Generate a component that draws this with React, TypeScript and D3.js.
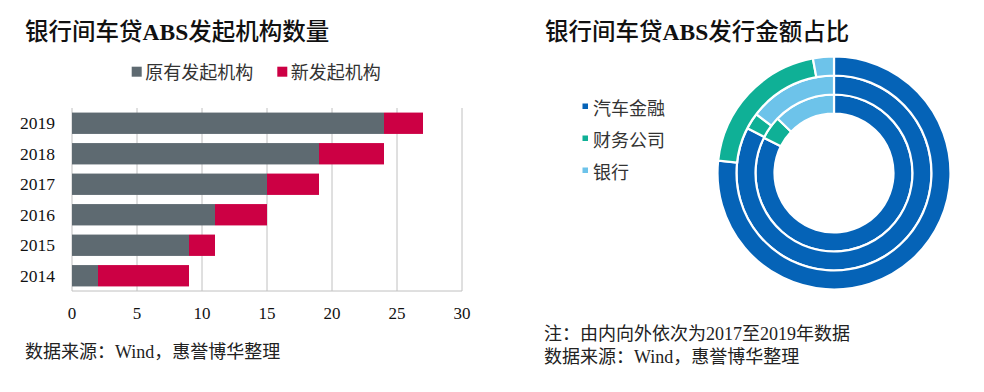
import React from "react";
import * as d3 from "d3";

// left chart: number of originators per year
const years = ["2014", "2015", "2016", "2017", "2018", "2019"];
const existingOrgs = [2, 9, 11, 15, 19, 24];
const newOrgs = [7, 2, 4, 4, 5, 3];
const barSeries = ["原有发起机构", "新发起机构"];
const barColors = ["#5e6a71", "#cc0044"];

// right chart: issuance share, inner ring 2017 -> outer ring 2019
const ringYears = ["2017", "2018", "2019"];
const shareCategories = ["汽车金融", "财务公司", "银行"];
const autoFinance = [82.4, 82.6, 76.7];
const financeCo = [4.8, 2.7, 20.4];
const banks = [12.8, 14.7, 2.9];
const shareColors = ["#0563b7", "#0fb096", "#6dc3ea"];

const W = 984;
const H = 392;
const FONT = "'Liberation Serif', 'Times New Roman', 'Noto Sans CJK SC', serif";
const CJK = "'Liberation Serif', 'Noto Sans CJK SC', serif";

// title with bold latin part
function Title({ x, pre, post }: { x: number; pre: string; post: string }) {
  return (
    <text x={x} y={39.7} fontSize={23.5} fill="#111" fontFamily={CJK} fontWeight={500}>
      {pre}
      <tspan fontWeight="bold">ABS</tspan>
      {post}
    </text>
  );
}

function BarChart() {
  const margin = { top: 108, left: 72, right: 462, bottom: 291 };
  const x = d3.scaleLinear().domain([0, 30]).range([margin.left, margin.right]);
  const y = d3
    .scaleBand()
    .domain(years.slice().reverse())
    .range([margin.top, margin.bottom])
    .paddingInner(0.3)
    .paddingOuter(0.15);
  const ticks = x.ticks(6);

  return (
    <g>
      <Title x={25} pre="银行间车贷" post="发起机构数量" />

      {/* legend */}
      {barSeries.map((s, i) => {
        const lx = i === 0 ? 131.7 : 277.3;
        return (
          <g key={s}>
            <rect x={lx} y={66.7} width={10} height={10} fill={barColors[i]} />
            <text x={lx + 13.5} y={78.5} fontSize={18} fill="#333" fontFamily={CJK}>
              {s}
            </text>
          </g>
        );
      })}

      {/* grid */}
      {ticks.map((t) => (
        <line key={t} x1={x(t)} x2={x(t)} y1={margin.top} y2={margin.bottom} stroke="#c0c0c0" strokeWidth={1} />
      ))}
      <line x1={margin.left} x2={margin.right} y1={margin.bottom} y2={margin.bottom} stroke="#c0c0c0" />

      {/* bars */}
      {years.map((yr, i) => (
        <g key={yr}>
          <rect
            x={x(0)}
            y={y(yr)}
            width={x(existingOrgs[i]) - x(0)}
            height={y.bandwidth()}
            fill={barColors[0]}
          />
          <rect
            x={x(existingOrgs[i])}
            y={y(yr)}
            width={x(existingOrgs[i] + newOrgs[i]) - x(existingOrgs[i])}
            height={y.bandwidth()}
            fill={barColors[1]}
          />
          <text
            x={55}
            y={(y(yr) as number) + y.bandwidth() / 2 + 6}
            fontSize={17.5}
            textAnchor="end"
            fill="#111"
            fontFamily={FONT}
          >
            {yr}
          </text>
        </g>
      ))}

      {ticks.map((t) => (
        <text key={t} x={x(t)} y={319} fontSize={17} textAnchor="middle" fill="#111" fontFamily={FONT}>
          {t}
        </text>
      ))}

      <text x={25} y={357.6} fontSize={18} fill="#222" fontFamily={CJK}>
        数据来源：Wind，惠誉博华整理
      </text>
    </g>
  );
}

function DonutChart() {
  const cx = 834;
  const cy = 173;
  const r = d3.scaleLinear().domain([0, 3]).range([59.5, 116.5]);
  const pie = d3.pie<number>().sort(null).value((d) => d);
  const ringData = ringYears.map((_, i) => [autoFinance[i], financeCo[i], banks[i]]);

  return (
    <g>
      <Title x={545} pre="银行间车贷" post="发行金额占比" />

      {shareCategories.map((c, i) => (
        <g key={c}>
          <rect x={582.5} y={106 + i * 32 - 2.5} width={5.5} height={5.5} fill={shareColors[i]} />
          <text x={593} y={115 + i * 32} fontSize={18} fill="#333" fontFamily={CJK}>
            {c}
          </text>
        </g>
      ))}

      <g transform={`translate(${cx},${cy})`}>
        {ringData.map((vals, ri) => {
          const arc = d3.arc<d3.PieArcDatum<number>>().innerRadius(r(ri)).outerRadius(r(ri + 1));
          return (
            <g key={ringYears[ri]}>
              {pie(vals).map((d, j) => (
                <path key={j} d={arc(d) as string} fill={shareColors[j]} stroke="#fff" strokeWidth={2.2} />
              ))}
            </g>
          );
        })}
      </g>

      <text x={544} y={339.5} fontSize={18} fill="#222" fontFamily={CJK}>
        注：由内向外依次为2017至2019年数据
      </text>
      <text x={544} y={362.6} fontSize={18} fill="#222" fontFamily={CJK}>
        数据来源：Wind，惠誉博华整理
      </text>
    </g>
  );
}

export default function App() {
  return (
    <svg width={W} height={H} style={{ display: "block", position: "absolute", left: 0, top: 0 }}>
      <rect width={W} height={H} fill="#fff" />
      <BarChart />
      <DonutChart />
    </svg>
  );
}
